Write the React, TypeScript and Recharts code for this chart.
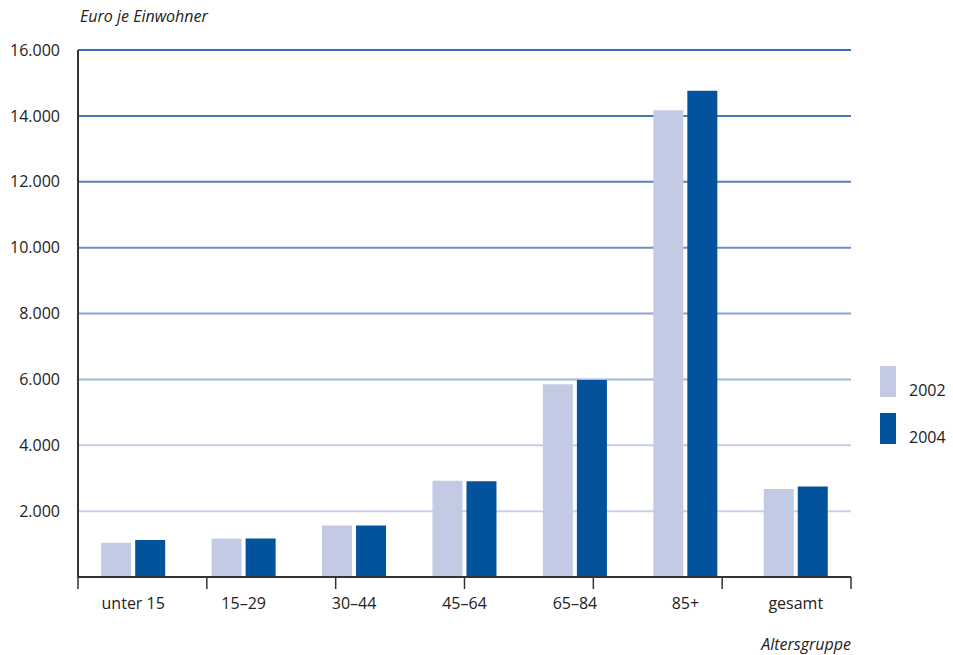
import { BarChart, Bar, XAxis, YAxis, CartesianGrid } from "recharts";

// Euro je Einwohner nach Altersgruppe
const categories = ["unter 15", "15–29", "30–44", "45–64", "65–84", "85+", "gesamt"];
const values2002 = [1040, 1170, 1560, 2920, 5850, 14170, 2670];
const values2004 = [1120, 1170, 1560, 2910, 5980, 14760, 2750];
const yTicks = [2000, 4000, 6000, 8000, 10000, 12000, 14000, 16000];
const boundaryTicks = [0, 1, 2, 3, 4, 5, 6, 7];

const COLORS = {
    light: "#c3cbe4",
    dark: "#03529c",
    axis: "#333333",
    text: "#222222",
};

// gridlines fade from dark blue (top) to lavender (bottom)
const GRID_COLORS = ["#cad0e8", "#c4cbe5", "#a6b3dd", "#8ea3d0", "#6f8fc2", "#5a80b9", "#4a74b4", "#3d6cae"];

const FONT = "'Open Sans', 'DejaVu Sans', sans-serif";

const data = categories.map((name, i) => ({
    name,
    v2002: values2002[i],
    v2004: values2004[i],
}));

const fmt = (v: number) => v.toLocaleString("de-DE");

function LegendBox() {
    const items = [
        { label: "2002", color: COLORS.light },
        { label: "2004", color: COLORS.dark },
    ];
    return (
        <div style={{ position: "absolute", left: 880, top: 366, fontFamily: FONT, fontSize: 16, color: COLORS.text }}>
            {items.map((it) => (
                <div key={it.label} style={{ display: "flex", alignItems: "flex-end", height: 31, marginBottom: 16 }}>
                    <div style={{ width: 16, height: 31, background: it.color }} />
                    <span style={{ marginLeft: 13, lineHeight: "18px", marginBottom: -2 }}>{it.label}</span>
                </div>
            ))}
        </div>
    );
}

export default function App() {
    return (
        <div style={{ position: "absolute", left: 0, top: 0, width: 953, height: 655, background: "#fff" }}>
            <div
                style={{
                    position: "absolute",
                    left: 80,
                    top: 5,
                    fontFamily: FONT,
                    fontStyle: "italic",
                    fontSize: 16,
                    color: COLORS.text,
                }}
            >
                Euro je Einwohner
            </div>
            <div
                style={{
                    position: "absolute",
                    right: 953 - 851,
                    top: 633,
                    fontFamily: FONT,
                    fontStyle: "italic",
                    fontSize: 16,
                    color: COLORS.text,
                }}
            >
                Altersgruppe
            </div>
            <LegendBox />
            <BarChart
                width={953}
                height={655}
                data={data}
                margin={{ top: 50, right: 102, left: 8, bottom: 37 }}
                barCategoryGap="21%"
                barGap={4}
            >
                <CartesianGrid
                    vertical={false}
                    horizontal={(p: any) => (
                        <line
                            key={`g-${p.index}`}
                            x1={p.x1}
                            x2={p.x2}
                            y1={p.y1}
                            y2={p.y2}
                            stroke={GRID_COLORS[p.index % GRID_COLORS.length]}
                            strokeWidth={2}
                        />
                    )}
                />
                <XAxis
                    xAxisId="b"
                    type="number"
                    domain={[0, 7]}
                    ticks={boundaryTicks}
                    interval={0}
                    allowDataOverflow
                    tickFormatter={() => ""}
                    tickSize={12}
                    height={1}
                    axisLine={{ stroke: COLORS.axis, strokeWidth: 2 }}
                    tickLine={{ stroke: COLORS.axis, strokeWidth: 1.5 }}
                />
                <XAxis
                    xAxisId="cat"
                    dataKey="name"
                    height={40}
                    axisLine={false}
                    tickLine={false}
                    tickSize={0}
                    tickMargin={20}
                    interval={0}
                    tick={{ fill: COLORS.text, fontSize: 16, fontFamily: FONT }}
                />
                <YAxis
                    width={70}
                    domain={[0, 16000]}
                    ticks={yTicks}
                    tickFormatter={fmt}
                    tickLine={false}
                    tickMargin={12}
                    axisLine={{ stroke: COLORS.axis, strokeWidth: 2 }}
                    tick={{ fill: COLORS.text, fontSize: 16, fontFamily: FONT }}
                />
                <Bar xAxisId="cat" dataKey="v2002" name="2002" fill={COLORS.light} isAnimationActive={false} />
                <Bar xAxisId="cat" dataKey="v2004" name="2004" fill={COLORS.dark} isAnimationActive={false} />
            </BarChart>
        </div>
    );
}
